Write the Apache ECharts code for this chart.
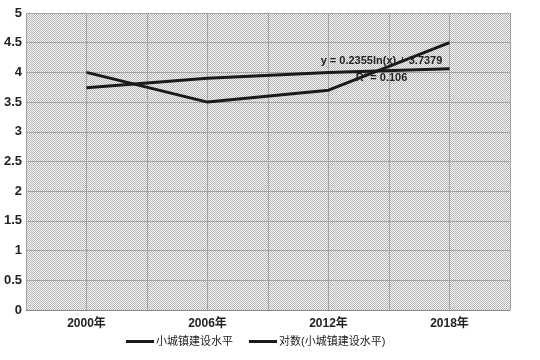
<!DOCTYPE html>
<html><head><meta charset="utf-8">
<script src="https://cdn.jsdelivr.net/npm/echarts@6/dist/echarts.min.js"></script>
<style>html,body{margin:0;padding:0;background:#fff}#c{width:540px;height:360px}</style>
</head><body><div id="c"></div>
<script>
const categories = ['2000年', '2006年', '2012年', '2018年'];
const levelValues = [4.0, 3.5, 3.7, 4.5];
const trendValues = [3.74, 3.90, 4.00, 4.06];
const seriesNames = ['小城镇建设水平', '对数(小城镇建设水平)'];
const trendText = ['y = 0.2355ln(x) + 3.7379', 'R² = 0.106'];
const yTicks = { min: 0, max: 5, interval: 0.5 };
const halfBands = ['a','b','c','d','e','f','g','h'];

const pc = document.createElement('canvas');
pc.width = 2; pc.height = 2;
const g = pc.getContext('2d');
g.fillStyle = '#f4f4f4'; g.fillRect(0,0,2,2);
g.fillStyle = '#b8b8b8'; g.fillRect(0,0,1,1); g.fillRect(1,1,1,1);

const font = "'Liberation Sans Narrow','Liberation Sans','Noto Sans CJK SC',sans-serif";
const chart = echarts.init(document.getElementById('c'), null, {renderer:'canvas'});
chart.setOption({
  animation: false,
  backgroundColor: '#fff',
  grid: { left: 26, right: 30, top: 13, bottom: 50, show: true,
    backgroundColor: { image: pc, repeat: 'repeat' }, borderWidth: 0 },
  legend: {
    bottom: 8, left: 121, itemGap: 16,
    icon: 'rect', itemWidth: 28, itemHeight: 3,
    textStyle: { fontFamily: font, fontSize: 11, color: '#222', padding: [0, 0, 0, -3] },
    data: seriesNames
  },
  xAxis: [{
    type: 'category', data: categories, boundaryGap: true,
    axisLine: { lineStyle: { color: '#8a8a8a', width: 1 } },
    axisTick: { show: false },
    splitLine: { show: false },
    axisLabel: { fontFamily: font, fontSize: 12, fontWeight: 'bold', color: '#222', margin: 8 }
  }, {
    type: 'category', data: halfBands, boundaryGap: true, position: 'bottom',
    axisLine: { show: false }, axisTick: { show: false }, axisLabel: { show: false },
    splitLine: { show: true, lineStyle: { color: '#a4a4a4', width: 1 } }
  }],
  yAxis: {
    type: 'value', min: yTicks.min, max: yTicks.max, interval: yTicks.interval,
    axisLine: { show: false }, axisTick: { show: false },
    splitLine: { show: true, lineStyle: { color: '#a4a4a4', width: 1 } },
    axisLabel: { fontFamily: font, fontSize: 13, fontWeight: 'bold', color: '#222', margin: 4 }
  },
  series: [{
    name: seriesNames[0], type: 'line', data: levelValues, xAxisIndex: 0,
    symbol: 'none', lineStyle: { color: '#1a1a1a', width: 3 }, itemStyle: { color: '#1a1a1a' }
  }, {
    name: seriesNames[1], type: 'line', data: trendValues, xAxisIndex: 0,
    symbol: 'none', lineStyle: { color: '#1a1a1a', width: 3 }, itemStyle: { color: '#1a1a1a' },
    markPoint: {
      symbol: 'circle', symbolSize: 0,
      data: [{ coord: [categories[2], trendValues[2]] }],
      label: {
        show: true, position: 'inside', offset: [53, -3],
        formatter: trendText.join('\n'), lineHeight: 17,
        fontFamily: font, fontSize: 11, fontWeight: 'bold', color: '#222', align: 'center'
      }
    }
  }]
});
</script></body></html>
